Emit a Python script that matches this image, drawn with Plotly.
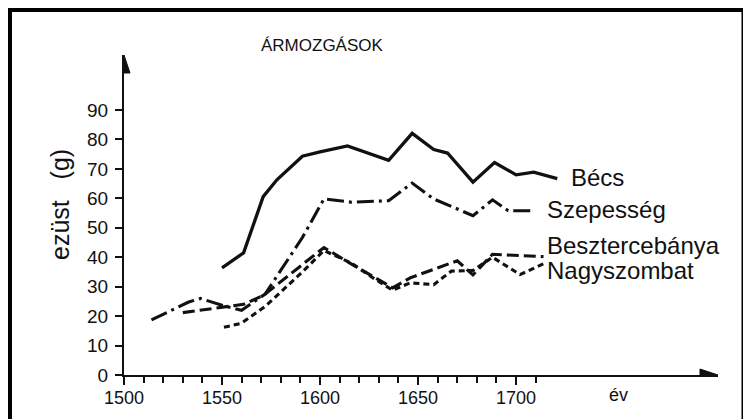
import plotly.graph_objects as go

# ---- data ----
becs_year = [1550, 1561, 1571, 1578, 1591, 1600, 1614, 1635, 1647, 1658, 1665, 1678, 1689, 1700, 1709, 1721]
becs_val = [36.4, 41.5, 60.6, 66.3, 74.3, 75.8, 77.8, 72.9, 82.1, 76.6, 75.4, 65.5, 72.2, 68.0, 68.9, 66.7]

szep_year = [1514, 1533, 1539, 1552, 1560, 1572, 1591, 1602, 1616, 1635, 1647, 1658, 1668, 1678, 1688, 1696, 1709]
szep_val = [18.7, 24.8, 26.0, 23.3, 22.0, 27.5, 46.7, 59.8, 58.7, 59.2, 65.2, 59.8, 57.0, 54.1, 59.5, 55.8, 55.8]

beszt_year = [1530, 1551, 1561, 1571, 1586, 1602, 1615, 1637, 1646, 1658, 1670, 1678, 1688, 1714]
beszt_val = [21.2, 23.0, 24.0, 27.0, 35.0, 43.3, 38.1, 29.6, 33.0, 36.0, 38.8, 34.0, 41.0, 40.2]

nagy_year = [1551, 1560, 1572, 1582, 1591, 1602, 1616, 1627, 1637, 1646, 1658, 1667, 1678, 1688, 1702, 1714]
nagy_val = [16.2, 17.6, 23.3, 29.6, 35.0, 42.3, 38.0, 33.0, 28.8, 31.3, 30.7, 35.3, 35.5, 40.0, 34.1, 37.8]

x_tick_vals = [1500, 1550, 1600, 1650, 1700]
x_tick_text = ["1500", "1550", "1600", "1650", "1700"]
x_minor_vals = list(range(1500, 1711, 10))
y_tick_vals = [0, 10, 20, 30, 40, 50, 60, 70, 80, 90]

title_text = "ÁRMOZGÁSOK"
y_title = "ezüst   (g)"
x_title = "év"
series_labels = ["Bécs", "Szepesség", "Besztercebánya", "Nagyszombat"]

# ---- layout geometry ----
W, H = 751, 419
ML, MR, MT, MB = 116, 41, 47, 52
PW, PH = W - ML - MR, H - MT - MB
X0, X1 = 1500, 1803
Y0, Y1 = 0, 108.7


def px(x):
    return (x - ML) / PW


def py(y):
    return (H - MB - y) / PH


FONT = "Liberation Sans, Arial, Helvetica, sans-serif"
INK = "#111111"

fig = go.Figure()
fig.add_trace(go.Scatter(x=becs_year, y=becs_val, mode="lines",
                         line=dict(color=INK, width=3.3)))
fig.add_trace(go.Scatter(x=szep_year, y=szep_val, mode="lines",
                         line=dict(color=INK, width=3.1, dash="17px,5px,3px,5px")))
fig.add_trace(go.Scatter(x=beszt_year, y=beszt_val, mode="lines",
                         line=dict(color=INK, width=3.1, dash="12px,5px")))
fig.add_trace(go.Scatter(x=nagy_year, y=nagy_val, mode="lines",
                         line=dict(color=INK, width=3.1, dash="6px,4px")))

fig.update_layout(
    width=W, height=H,
    margin=dict(l=ML, r=MR, t=MT, b=MB, pad=0),
    paper_bgcolor="white", plot_bgcolor="white",
    showlegend=False,
    font=dict(family=FONT, color=INK, size=18),
    xaxis=dict(range=[X0, X1], showgrid=False, zeroline=False,
               showline=True, linecolor=INK, linewidth=2,
               tickmode="array", tickvals=x_tick_vals, ticktext=x_tick_text,
               ticks="", tickfont=dict(size=18, family=FONT, color=INK),
               ticklabelstandoff=5,
               minor=dict(tickmode="array", tickvals=x_minor_vals,
                          ticks="outside", ticklen=6, tickwidth=1.6, tickcolor=INK)),
    xaxis2=dict(range=[X0, X1], overlaying="x", anchor="y", side="bottom",
                showgrid=False, zeroline=False, showline=False,
                tickmode="array", tickvals=x_tick_vals, showticklabels=False,
                ticks="outside", ticklen=9, tickwidth=1.6, tickcolor=INK),
    yaxis=dict(range=[Y0, Y1], showgrid=False, zeroline=False,
               showline=True, linecolor=INK, linewidth=2,
               tickmode="array", tickvals=y_tick_vals,
               ticks="outside", ticklen=7, tickwidth=1.6, tickcolor=INK,
               tickfont=dict(size=19, family=FONT, color=INK),
               ticklabelstandoff=3),
)
# invisible helper trace so the overlay axis (major tick marks) is drawn
fig.add_trace(go.Scatter(x=[X0], y=[0], xaxis="x2", yaxis="y", mode="markers",
                         marker=dict(opacity=0), hoverinfo="skip"))

# arrow heads at the ends of the axes
fig.add_shape(type="path", xref="x", yref="y", xsizemode="pixel", ysizemode="pixel",
              xanchor=X1, yanchor=0, path="M 0 0 L -18 6 L -18 -6 Z",
              fillcolor=INK, line=dict(color=INK, width=1))
fig.add_shape(type="path", xref="x", yref="y", xsizemode="pixel", ysizemode="pixel",
              xanchor=X0, yanchor=Y1, path="M 0 0 L -6 -18 L 6 -18 Z",
              fillcolor=INK, line=dict(color=INK, width=1))

# frame around the picture
fig.add_shape(type="rect", xref="paper", yref="paper",
              x0=px(1.5), x1=px(736), y0=py(440), y1=py(1.5),
              line=dict(color="black", width=5), fillcolor="rgba(0,0,0,0)", layer="above")

# texts
fig.add_annotation(text=title_text, xref="paper", yref="paper", x=px(314), y=py(37),
                   xanchor="center", yanchor="middle",
                   showarrow=False, font=dict(size=17, family=FONT, color=INK))
fig.add_annotation(text=y_title, xref="paper", yref="paper", x=px(52), y=py(197),
                   xanchor="center", yanchor="middle",
                   showarrow=False, textangle=-90, font=dict(size=25, family=FONT, color=INK))
fig.add_annotation(text=x_title, xref="paper", yref="paper", x=px(610), y=py(387),
                   xanchor="center", yanchor="middle",
                   showarrow=False, font=dict(size=18, family=FONT, color=INK))

label_pos = [(561, 169), (537, 201), (537, 237), (537, 262)]
for name, (lx, ly) in zip(series_labels, label_pos):
    fig.add_annotation(text=name, xref="paper", yref="paper", x=px(lx), y=py(ly),
                       xanchor="left", yanchor="middle", showarrow=False,
                       font=dict(size=24, family=FONT, color=INK))

fig.write_html("out.html")
